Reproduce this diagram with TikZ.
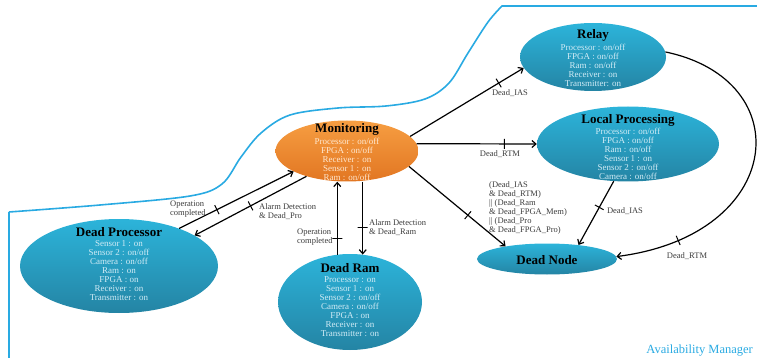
\documentclass[tikz,border=0pt]{standalone}
\usepackage{fontspec}
\setmainfont{Liberation Serif}
\usetikzlibrary{arrows.meta,shapes.geometric,calc}
\definecolor{bluetop}{RGB}{44,180,218}
\definecolor{bluebot}{RGB}{36,132,164}
\definecolor{orgtop}{RGB}{246,158,66}
\definecolor{orgbot}{RGB}{226,118,34}
\definecolor{paletext}{RGB}{210,236,246}
\definecolor{paleorg}{RGB}{255,232,208}
\definecolor{bound}{RGB}{41,170,226}
\definecolor{lbl}{RGB}{60,60,60}
\newcommand{\ttlfont}{\fontsize{13}{12}\selectfont\bfseries\color{black}}
\tikzset{
  stateshape/.style={ellipse, inner sep=0pt, top color=bluetop, bottom color=bluebot, draw=none},
  monshape/.style={ellipse, inner sep=0pt, top color=orgtop, bottom color=orgbot, draw=none},
  statetext/.style={align=center, font=\fontsize{9}{9}\selectfont, text=paletext, inner sep=0pt},
  montext/.style={statetext, text=paleorg},
  conn/.style={draw=black, line width=1.2pt, -{Straight Barb[length=4pt, width=7pt]}},
  tick/.style={draw=black, line width=1pt, rectangle, minimum width=0pt, minimum height=10pt, inner sep=0pt, sloped},
  edgelbl/.style={font=\fontsize{8.5}{9}\selectfont, text=lbl, align=left, inner sep=0pt},
  boundary/.style={draw=bound, line width=1.6pt},
}
\begin{document}
\begin{tikzpicture}[x=1pt, y=-1pt]
\useasboundingbox (0,0) rectangle (757,358);

% boundary of the availability manager
\draw[boundary] (9,358) -- (9,212)
  plot[smooth, tension=0.55] coordinates {(9,212) (100,205) (190,196) (222,184) (241,157) (261,133) (290,115) (338,108) (386,106) (425,99) (449,83) (468,53) (488,22) (502,6)}
  -- (757,6);
\node[anchor=east, font=\fontsize{12.5}{12}\selectfont, text=bound, inner sep=0pt] (am) at (753,351) {Availability Manager};

% states
\node[monshape, minimum width=143pt, minimum height=61pt] (mon) at (347,151) {};
\node[montext] (mont) at (347,152) {{\ttlfont Monitoring}\\[1pt]Processor : on/off\\FPGA : on/off\\Receiver : on\\Sensor 1 : on\\Ram : on/off};

\node[stateshape, minimum width=146pt, minimum height=68pt] (relay) at (593,57) {};
\node[statetext] (relayt) at (593,58) {{\ttlfont Relay}\\[1pt]Processor : on/off\\FPGA : on/off\\Ram : on/off\\Receiver : on\\Transmitter: on};

\node[stateshape, minimum width=182pt, minimum height=75pt] (lp) at (628,144) {};
\node[statetext] (lpt) at (628,147) {{\ttlfont Local Processing}\\[1pt]Processor : on/off\\FPGA : on/off\\Ram : on/off\\Sensor 1 : on\\Sensor 2 : on/off\\Camera : on/off};

\node[stateshape, minimum width=198pt, minimum height=94pt] (dp) at (119,266) {};
\node[statetext] (dpt) at (119,264) {{\ttlfont Dead Processor}\\[1pt]Sensor 1 : on\\Sensor 2 : on/off\\Camera : on/off\\Ram : on\\FPGA : on\\Receiver : on\\Transmitter : on};

\node[stateshape, minimum width=144pt, minimum height=96pt] (dr) at (350,302) {};
\node[statetext] (drt) at (350,300) {{\ttlfont Dead Ram}\\[1pt]Processor : on\\Sensor 1 : on\\Sensor 2 : on/off\\Camera : on/off\\FPGA : on\\Receiver : on\\Transmitter : on};

\node[stateshape, minimum width=140pt, minimum height=31pt] (dn) at (547,259) {};
\node[statetext] (dnt) at (547,260) {{\ttlfont Dead Node}};

% edge labels
\node[edgelbl, anchor=center] (l1) at (510,93) {Dead\_IAS};
\node[edgelbl, anchor=center] (l2) at (500,154) {Dead\_RTM};
\node[edgelbl, anchor=north west] (l3) at (489,181) {(Dead\_IAS\\\& Dead\_RTM)\\|| (Dead\_Ram\\\& Dead\_FPGA\_Mem)\\|| (Dead\_Pro\\\& Dead\_FPGA\_Pro)};
\node[edgelbl, anchor=center] (l4) at (625,211) {Dead\_IAS};
\node[edgelbl, anchor=center] (l5) at (687,256) {Dead\_RTM};
\node[edgelbl, anchor=west] (l6) at (170,209.5) {Operation\\completed};
\node[edgelbl, anchor=west] (l7) at (259,211.5) {Alarm Detection\\\& Dead\_Pro};
\node[edgelbl, anchor=west] (l8) at (297,237.5) {Operation\\completed};
\node[edgelbl, anchor=west] (l9) at (369,227.5) {Alarm Detection\\\& Dead\_Ram};

% connectors
\draw[conn] (mon.13) -- node[tick, pos=0.78]{} (relay.189);
\draw[conn] (mon.6) -- node[tick, pos=0.73]{} (lp.180);
\draw[conn] (mon.-14) -- node[tick, pos=0.61]{} (dn.163);
\draw[conn] (lp.249) -- node[tick, pos=0.41]{} (dn.24);
\draw[conn] (relay.4) .. controls (800,80) and (785,235) .. node[tick, pos=0.86]{} (dn.2);
\draw[conn] (dp.32) -- node[tick, pos=0.33]{} (mon.201);
\draw[conn] (mon.212) -- node[tick, pos=0.5]{} (dp.22);
\draw[conn] (dr.105) -- node[tick, pos=0.22]{} (dr.105 |- mon.south);
\draw[conn] (dr.75 |- mon.south) -- node[tick, pos=0.63]{} (dr.75);
\end{tikzpicture}
\end{document}
